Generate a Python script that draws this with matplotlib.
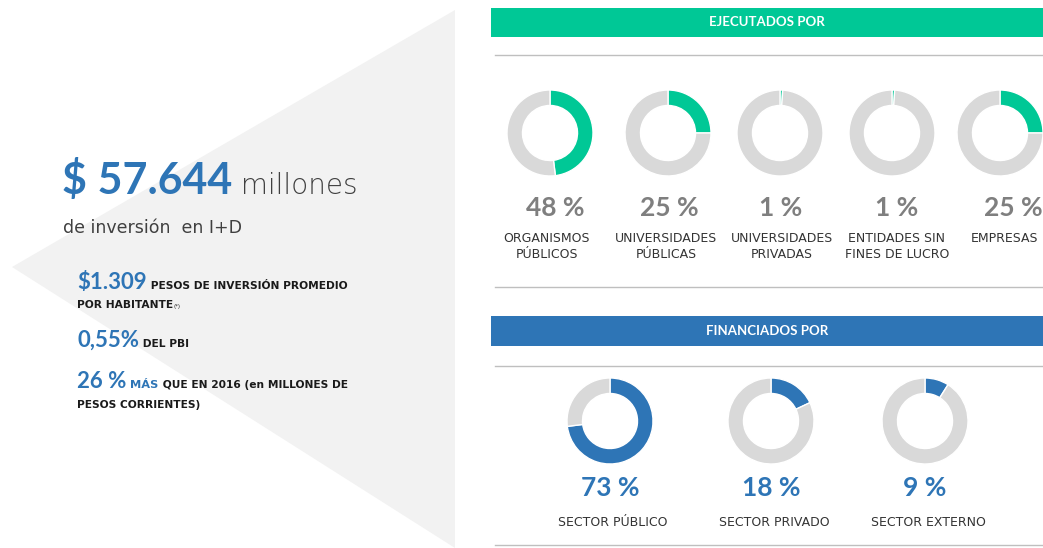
import matplotlib.pyplot as plt
from matplotlib.patches import Polygon, Rectangle

W, H = 1043, 548

# datos
ejec_labels = ["ORGANISMOS\nPÚBLICOS", "UNIVERSIDADES\nPÚBLICAS", "UNIVERSIDADES\nPRIVADAS",
               "ENTIDADES SIN\nFINES DE LUCRO", "EMPRESAS"]
ejec_pct = [48, 25, 1, 1, 25]
fin_labels = ["SECTOR PÚBLICO", "SECTOR PRIVADO", "SECTOR EXTERNO"]
fin_pct = [73, 18, 9]

GREEN = "#00C896"
BLUE = "#2E75B6"
LGRAY = "#D9D9D9"
TXT_GRAY = "#7F7F7F"

fig = plt.figure(figsize=(W / 100, H / 100), dpi=100)
bg = fig.add_axes([0, 0, 1, 1])
bg.set_xlim(0, W)
bg.set_ylim(H, 0)
bg.axis("off")

# fondo triangular gris
bg.add_patch(Polygon([(12, 267), (455, 10), (455, H)], closed=True, color="#F2F2F2", lw=0))

# barras de encabezado y lineas
bg.add_patch(Rectangle((491, 8), W - 491, 29, color=GREEN, lw=0))
bg.add_patch(Rectangle((491, 316), W - 491, 30, color=BLUE, lw=0))
for yl in [55, 287, 366, 545]:
    bg.plot([495, W], [yl, yl], color="#BFBFBF", lw=1)
bg.text(767, 22, "EJECUTADOS POR", color="white", fontsize=9.5, fontweight="bold",
        family="Lato", ha="center", va="center")
bg.text(767, 331, "FINANCIADOS POR", color="white", fontsize=9.5, fontweight="bold",
        family="Lato", ha="center", va="center")

fig.canvas.draw()
renderer = fig.canvas.get_renderer()


def run(x, y, parts):
    for s, kw in parts:
        t = bg.text(x, y, s, va="baseline", ha="left", **kw)
        x += t.get_window_extent(renderer).width


big = dict(family="Lato", fontweight="bold", color=BLUE)
blk = dict(family="DejaVu Sans", fontweight="bold", color="#1A1A1A", fontsize=7.7)
run(62, 194, [("$ 57.644", dict(fontsize=31, **big)),
              (" millones", dict(family="DejaVu Sans", fontsize=20, color="#404040",
                                 fontweight="light"))])
bg.text(63, 233, "de inversión  en I+D", family="DejaVu Sans", fontsize=12.5,
        color="#404040", va="baseline")
run(77, 289, [("$1.309", dict(fontsize=16, **big)),
              (" PESOS DE INVERSIÓN PROMEDIO", blk)])
run(77, 308, [("POR HABITANTE", blk),
              ("(*)", dict(family="DejaVu Sans", fontsize=4, color="#1A1A1A"))])
run(77, 347, [("0,55%", dict(fontsize=16, **big)), (" DEL PBI", blk)])
run(77, 388, [("26 %", dict(fontsize=16, **big)),
              (" MÁS", dict(family="DejaVu Sans", fontweight="bold", color=BLUE, fontsize=8.2)),
              (" QUE EN 2016 (en MILLONES DE", blk)])
bg.text(77, 408, "PESOS CORRIENTES)", va="baseline", **blk)


def donut(cx, cy, r, val, color):
    ax = fig.add_axes([(cx - r) / W, 1 - (cy + r) / H, 2 * r / W, 2 * r / H])
    ax.pie([val, 100 - val], colors=[color, LGRAY], startangle=90, counterclock=False,
           radius=1, wedgeprops=dict(width=0.36, edgecolor="white", linewidth=1))
    ax.set_xlim(-1, 1)
    ax.set_ylim(-1, 1)
    ax.set_aspect("equal")
    ax.axis("off")


ejec_x = [550, 668, 780, 892, 1000]
ejec_lx = [547, 666, 782, 897, 1004]
ejec_px = [555, 669, 781, 897, 1013]
for cx, lx, px, v, lab in zip(ejec_x, ejec_lx, ejec_px, ejec_pct, ejec_labels):
    donut(cx, 133, 43, v, GREEN)
    bg.text(px, 208, f"{v} %", family="Lato", fontweight="bold", fontsize=19,
            color=TXT_GRAY, ha="center", va="center")
    bg.text(lx, 232, lab, family="DejaVu Sans", fontsize=9, color="#333333",
            ha="center", va="top", linespacing=1.3)

fin_x = [610, 771, 925]
for cx, v, lab in zip(fin_x, fin_pct, fin_labels):
    donut(cx, 421, 43, v, BLUE)
    bg.text(cx, 488, f"{v} %", family="Lato", fontweight="bold", fontsize=19,
            color=BLUE, ha="center", va="center")
    bg.text(cx + 3, 522, lab, family="DejaVu Sans", fontsize=9, color="#333333",
            ha="center", va="center")

fig.savefig("out.png", dpi=100)
